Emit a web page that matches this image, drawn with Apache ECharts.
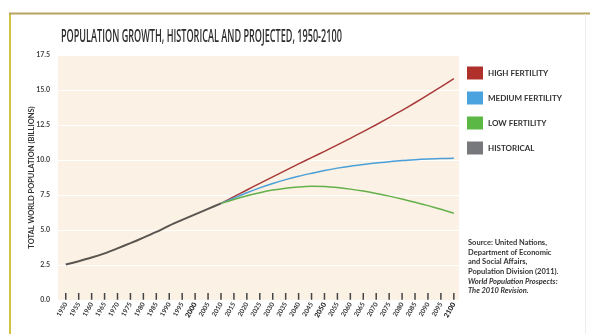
<!DOCTYPE html>
<html><head><meta charset="utf-8">
<script src="https://cdn.jsdelivr.net/npm/echarts@6/dist/echarts.min.js"></script>
<style>html,body{margin:0;padding:0;background:#fff}#c{width:590px;height:334px}</style>
</head><body><div id="c"></div>
<script>
var histYears = [1950,1955,1960,1965,1970,1975,1980,1985,1990,1995,2000,2005,2010];
var histValues = [2.53,2.77,3.03,3.33,3.69,4.06,4.45,4.86,5.31,5.72,6.12,6.51,6.90];
var projYears = [2010,2015,2020,2025,2030,2035,2040,2045,2050,2055,2060,2065,2070,2075,2080,2085,2090,2095,2100];
var highValues = [6.90,7.38,7.86,8.33,8.80,9.26,9.72,10.17,10.62,11.08,11.55,12.03,12.52,13.03,13.55,14.09,14.65,15.22,15.81];
var mediumValues = [6.90,7.28,7.66,8.01,8.32,8.60,8.84,9.05,9.25,9.42,9.56,9.68,9.79,9.88,9.96,10.02,10.07,10.11,10.13];
var lowValues = [6.90,7.18,7.44,7.66,7.85,7.99,8.08,8.12,8.10,8.03,7.92,7.78,7.61,7.42,7.21,6.98,6.74,6.48,6.20];
var tickYears = [];
for (var i = 0; i <= 30; i++) tickYears.push(1950 + i * 5);
var boldYears = [2000, 2050, 2100];
var legendNames = ['HIGH FERTILITY','MEDIUM FERTILITY','LOW FERTILITY','HISTORICAL'];
var sourceLines = ['Source: United Nations,','Department of Economic','and Social Affairs,','Population Division (2011).'];
var sourceItalic = ['World Population Prospects:','The 2010 Revision.'];
var titleText = 'POPULATION GROWTH, HISTORICAL AND PROJECTED, 1950-2100';

function pairs(xs, ys){ return xs.map(function(x,i){ return [x, ys[i]]; }); }
var tickSegments = [];
tickYears.forEach(function(y){ tickSegments.push([y, 0.02], [y, 0.5], [y, '-']); });

var chart = echarts.init(document.getElementById('c'), null, {renderer:'canvas'});
var txtFont = 'Lato, "DejaVu Sans", sans-serif';
chart.setOption({
  animation: false,
  backgroundColor: '#fff',
  legend: {
    orient: 'vertical', left: 467, top: 66.5, padding: 0, itemWidth: 16, itemHeight: 13, itemGap: 12,
    icon: 'rect', data: legendNames,
    textStyle: {fontFamily: txtFont, fontSize: 8, fontWeight: 'bold', color: '#333', padding: [0,0,0,0]}
  },
  grid: {left: 58, right: 131, top: 55, bottom: 34, show: true, backgroundColor: '#fbf1e4', borderWidth: 0},
  xAxis: {
    type: 'value', min: 1947, max: 2102,
    axisLine: {show: false},
    splitLine: {show: false},
    axisTick: {show: false},
    axisLabel: {
      customValues: tickYears, rotate: 60, margin: 3, fontSize: 6.5, fontFamily: txtFont, color: '#333', fontWeight: 'bold',
      formatter: function(v){ return boldYears.indexOf(v) >= 0 ? '{b|' + v + '}' : String(v); },
      rich: {b: {fontSize: 7, fontWeight: 900, fontFamily: txtFont, color: '#222'}}
    }
  },
  yAxis: {
    type: 'value', min: 0, max: 17.5, interval: 2.5,
    name: 'TOTAL WORLD POPULATION (BILLIONS)', nameLocation: 'middle', nameRotate: 90, nameGap: 22,
    nameMoveOverlap: false,
    nameTextStyle: {fontFamily: txtFont, fontSize: 7.5, fontWeight: 'bold', color: '#333'},
    axisLine: {show: false}, axisTick: {show: false},
    axisLabel: {fontSize: 7, fontFamily: txtFont, color: '#444', fontWeight: 'bold', margin: 8,
      formatter: function(v){ return v.toFixed(1); }},
    splitLine: {show: true, lineStyle: {color: '#ffffff', width: 1}}
  },
  series: [
    {name: legendNames[0], type: 'line', data: pairs(projYears, highValues), smooth: 0.3, symbol: 'none', color: '#b0302c', lineStyle: {width: 1.5, color: '#a83a3a'}},
    {name: legendNames[1], type: 'line', data: pairs(projYears, mediumValues), smooth: 0.3, symbol: 'none', color: '#4aa3df', lineStyle: {width: 1.5, color: '#4a9fd8'}},
    {name: legendNames[2], type: 'line', data: pairs(projYears, lowValues), smooth: 0.3, symbol: 'none', color: '#5cb845', lineStyle: {width: 1.5, color: '#64b04a'}},
    {name: legendNames[3], type: 'line', data: pairs(histYears, histValues), smooth: 0.3, symbol: 'none', color: '#77787b', lineStyle: {width: 2, color: '#5a5551'}},
    {name: 'ticks', type: 'line', data: tickSegments, connectNulls: false, symbol: 'none', silent: true, lineStyle: {width: 1.5, color: '#444'}, z: 5}
  ],
  graphic: [
    {type: 'line', shape: {x1: 10, y1: 13, x2: 10, y2: 334}, style: {stroke: '#cfc245', lineWidth: 2}},
    {type: 'line', shape: {x1: 9, y1: 13.5, x2: 590, y2: 13.5}, style: {stroke: '#b8a45e', lineWidth: 2}},
    {type: 'line', shape: {x1: 585.5, y1: 14, x2: 585.5, y2: 334}, style: {stroke: '#ececec', lineWidth: 1}},
    {type: 'text', x: 61, y: 28, scaleX: 0.52, style: {text: titleText, font: '600 17.5px "Open Sans", "DejaVu Sans", sans-serif', fill: '#2d2d2d'}},
    {type: 'text', left: 468, top: 238, style: {text: sourceLines.join('\n'), font: 'bold 7.5px ' + txtFont, fill: '#333', lineHeight: 9.6}},
    {type: 'text', left: 468, top: 276.4, style: {text: sourceItalic.join('\n'), font: 'italic bold 7.5px ' + txtFont, fill: '#333', lineHeight: 9.6}}
  ]
});
</script></body></html>
